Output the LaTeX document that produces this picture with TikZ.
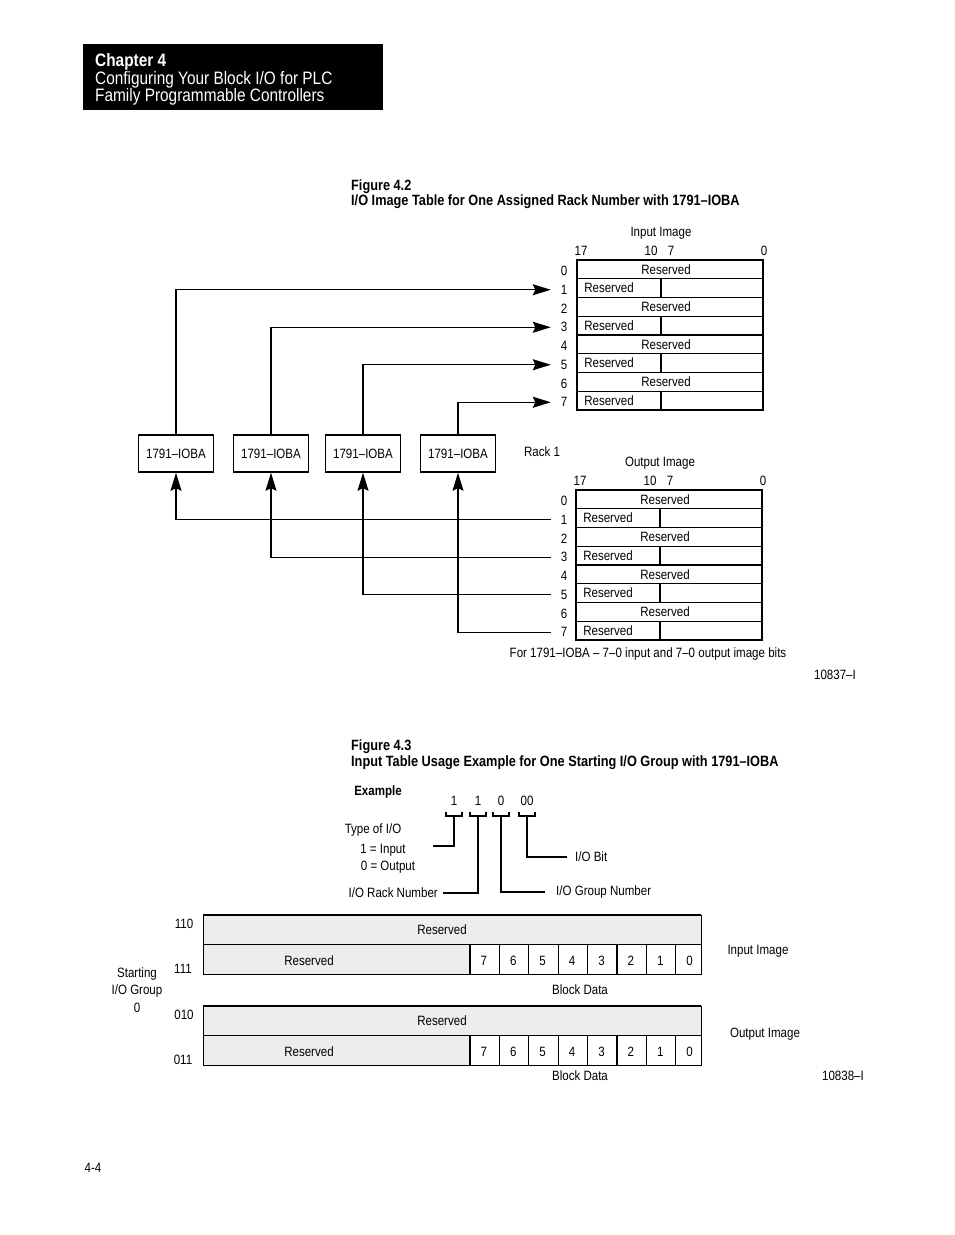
\documentclass[tikz,border=0pt]{standalone}
\usepackage{fontspec}
\setmainfont{Liberation Sans}[FakeStretch=0.855]
\usepackage{tikz}
\usetikzlibrary{arrows.meta}
\definecolor{cellgray}{gray}{0.93}
\newcommand\lbl{\fontsize{13.5}{15}\selectfont}
\newcommand\capt{\fontsize{14.9}{17}\selectfont\bfseries}
\newcommand\chap{\fontsize{18}{19}\selectfont}

\begin{document}
\begin{tikzpicture}[x=1pt,y=-1pt,>={Stealth[length=18pt,width=11pt,inset=2.5pt]},
  every node/.style={font=\lbl,inner sep=0pt},
  module/.style={draw,line width=1.5pt,minimum width=75pt,minimum height=37pt},
  wire/.style={line width=1.3pt},
  leader/.style={line width=1.3pt},
  rownum/.style={minimum width=26pt},
  tbl/.style={line width=1.3pt}]
 \useasboundingbox (0,0) rectangle (954,1235);
 % chapter tab
 \fill (83,44) rectangle (383,110);
 \node[anchor=base west,text=white,font=\chap\bfseries] (chapno) at (95,66) {Chapter 4};
 \node[anchor=base west,text=white,font=\chap] (chapa) at (95,84) {Configuring Your Block I/O for PLC};
 \node[anchor=base west,text=white,font=\chap] (chapb) at (95,101) {Family Programmable Controllers};
 % figure 4.2
 \node[anchor=base west,font=\capt] (fig42) at (351,190) {Figure 4.2};
 \node[anchor=base west,font=\capt] (fig42t) at (351,205) {I/O Image Table for One Assigned Rack Number with 1791–IOBA};
 \foreach \side/\ox/\oy/\title in {in/577/260/Input Image,out/576/490/Output Image}{
   \node (\side img) at (\ox+84,\oy-27) {\title};
   \node (\side b17) at (\ox+4,\oy-9) {17};
   \node (\side b10) at (\ox+74,\oy-9) {10};
   \node (\side b7) at (\ox+94,\oy-9) {7};
   \node (\side b0) at (\ox+187,\oy-9) {0};
   \draw[tbl] (\ox,\oy) rectangle (\ox+186,\oy+150);
   \foreach \r in {1,...,7}
     \draw[tbl] (\ox,\oy+\r*18.75) -- (\ox+186,\oy+\r*18.75);
   \foreach \r in {0,2,4,6}
     \node (\side res\r) at (\ox+89,\oy+9.4+\r*18.75) {Reserved};
   \foreach \r in {1,3,5,7}{
     \draw[tbl] (\ox+84,\oy+\r*18.75) -- (\ox+84,\oy+18.75+\r*18.75);
     \node (\side res\r) at (\ox+32,\oy+9.4+\r*18.75) {Reserved};
   }
   \foreach \r in {0,...,7}
     \node[rownum] (\side\r) at (564,\oy+11+\r*18.75) {\r};
 }
 % modules
 \node[module] (m1) at (176,453.5) {1791–IOBA};
 \node[module] (m2) at (271,453.5) {1791–IOBA};
 \node[module] (m3) at (363,453.5) {1791–IOBA};
 \node[module] (m4) at (458,453.5) {1791–IOBA};
 \node (rack) at (542,452) {Rack 1};
 \foreach \m/\r in {1/1,2/3,3/5,4/7}{
   \draw[wire,->] (m\m.north) |- (in\r.west);
   \draw[wire,->] (out\r.west) -| (m\m.south);
 }
 \node (note42) at (648,654) {For 1791–IOBA – 7–0 input and 7–0 output image bits};
 \node (id42) at (835,675) {10837–I};
 % figure 4.3
 \node[anchor=base west,font=\capt] (fig43) at (351,750) {Figure 4.3};
 \node[anchor=base west,font=\capt] (fig43t) at (351,766) {Input Table Usage Example for One Starting I/O Group with 1791–IOBA};
 \node[font=\lbl\bfseries] (example) at (378,792) {Example};
 \node (d1) at (454,801) {1};
 \node (d2) at (478,801) {1};
 \node (d3) at (501,801) {0};
 \node (d4) at (527,801) {00};
 \foreach \i in {1,...,4}{
   \path (d\i) ++(0,15) coordinate (b\i);
   \draw[leader] (b\i) ++(-8,-4) -- ++(0,4) -- ++(16,0) -- ++(0,-4);
 }
 \node (ltype) at (373,830) {Type of I/O};
 \node (linput) at (383,850) {1 = Input};
 \node (loutput) at (388,867) {0 = Output};
 \coordinate (typeend) at (433,846);
 \node[anchor=east,inner xsep=5pt] (lrack) at (443,893) {I/O Rack Number};
 \node[anchor=west,inner xsep=11pt] (lgroup) at (545,892) {I/O Group Number};
 \node[anchor=west,inner xsep=8pt] (lbit) at (567,857) {I/O Bit};
 \draw[leader] (b1) |- (typeend);
 \draw[leader] (b2) |- (lrack.east);
 \draw[leader] (b3) |- (lgroup.west);
 \draw[leader] (b4) |- (lbit.west);
 \node[align=center,font=\fontsize{13.5}{17.5}\selectfont] (startgrp) at (137,990) {Starting\\I/O Group\\0};
 \foreach \oy/\ca/\cb/\img/\imx/\imy/\bdy [count=\k] in {915/110/111/Input Image/758/951/990,1006/010/011/Output Image/765/1034/1076}{
   \fill[cellgray] (203,\oy) rectangle (701,\oy+29);
   \fill[cellgray] (203,\oy+29) rectangle (470,\oy+59);
   \draw (203,\oy) rectangle (701,\oy+59);
   \draw[line width=2pt] (203,\oy) -- (701,\oy);
   \draw (203,\oy+29) -- (701,\oy+29);
   \node (bres\k) at (442,\oy+15) {Reserved};
   \node (bhalf\k) at (309,\oy+46) {Reserved};
   \foreach \d [count=\j] in {7,6,5,4,3,2,1,0}{
     \draw[line width=1.2pt] (440.6+29.4*\j,\oy+29) -- (440.6+29.4*\j,\oy+59);
     \node (bit\k\d) at (454.5+29.4*\j,\oy+46) {\d};
   }
   \node (ca\k) at (184,\oy+9) {\ca};
   \node (cb\k) at (183,\oy+54) {\cb};
   \node (img\k) at (\imx,\imy) {\img};
   \node (bdata\k) at (580,\bdy) {Block Data};
 }
 \node (id43) at (843,1076) {10838–I};
 \node (pageno) at (93,1168) {4-4};
\end{tikzpicture}
\end{document}
